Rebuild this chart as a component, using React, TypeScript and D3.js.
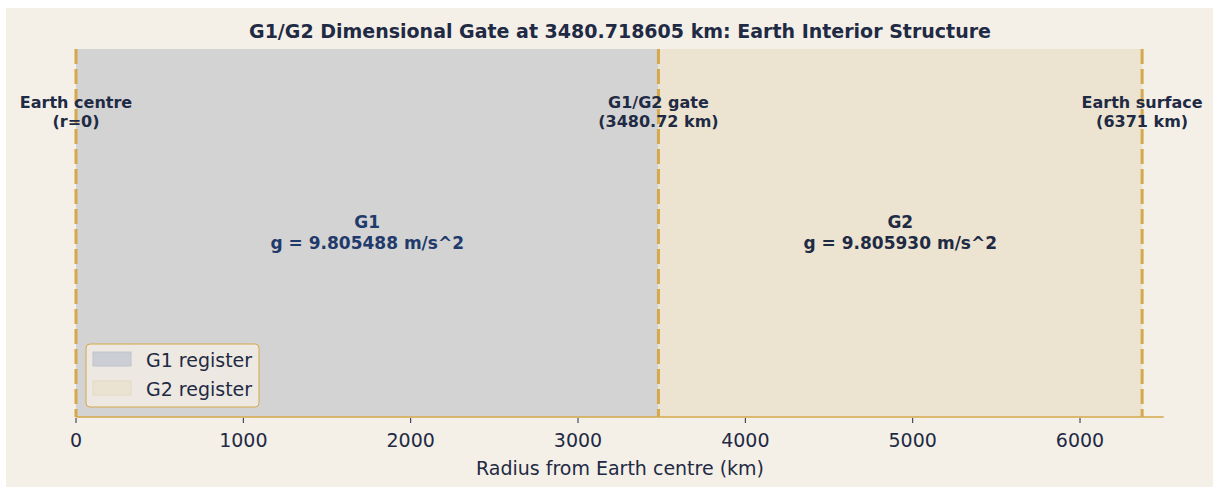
import React from "react";
import * as d3 from "d3";

const regionNames = ["G1", "G2"];
const regionStarts = [0, 3480.718605];
const regionEnds = [3480.718605, 6371];
const regionG = ["9.805488", "9.805930"];
const boundaryValues = [0, 3480.718605, 6371];
const boundaryLabels = [["Earth centre", "(r=0)"], ["G1/G2 gate", "(3480.72 km)"], ["Earth surface", "(6371 km)"]];
const legendLabels = ["G1 register", "G2 register"];
const xTicks = [0, 1000, 2000, 3000, 4000, 5000, 6000];
const xDomain = [0, 6500];

const W = 1213, H = 487;
const FONT = "DejaVu Sans, sans-serif";
const NAVY = "#1f2a44";
const GOLD = "#d4a84b";

export default function App() {
  const left = 76, right = 1163.7, top = 49, bottom = 417;
  const x = d3.scaleLinear().domain(xDomain).range([left, right]);
  const regionFill = ["#d3d3d3", "#ece4d0"];
  const regionText = ["#1f3a6b", NAVY];
  const swatchFill = ["#cbced4", "#ebe3d1"];
  const swatchStroke = ["#bfc3ca", "#e4dac4"];
  return (
    <svg width={W} height={H} style={{ position: "absolute", left: 0, top: 0, fontFamily: FONT }}>
      <rect x={0} y={0} width={W} height={H} fill="#ffffff" />
      <rect x={6} y={8} width={W - 6} height={H - 8} fill="#f4f0e8" />
      <text x={620} y={37.5} textAnchor="middle" fontSize={19} fontWeight="bold" fill={NAVY}>
        G1/G2 Dimensional Gate at 3480.718605 km: Earth Interior Structure
      </text>
      {regionNames.map((n, i) => (
        <rect key={n} x={x(regionStarts[i])} y={top} width={x(regionEnds[i]) - x(regionStarts[i])} height={bottom - top} fill={regionFill[i]} />
      ))}
      {boundaryValues.map((v, i) => (
        <line key={i} x1={x(v)} x2={x(v)} y1={top} y2={bottom} stroke={GOLD} strokeWidth={3} strokeDasharray="15,5" />
      ))}
      {boundaryLabels.map((lab, i) => (
        <text key={i} x={x(boundaryValues[i])} textAnchor="middle" fontSize={16} fontWeight="bold" fill={NAVY}>
          <tspan x={x(boundaryValues[i])} y={108}>{lab[0]}</tspan>
          <tspan x={x(boundaryValues[i])} y={127}>{lab[1]}</tspan>
        </text>
      ))}
      {regionNames.map((n, i) => {
        const cx = (x(regionStarts[i]) + x(regionEnds[i])) / 2;
        return (
          <text key={n} textAnchor="middle" fontSize={17} fontWeight="bold" fill={regionText[i]}>
            <tspan x={cx} y={228}>{n}</tspan>
            <tspan x={cx} y={249}>{`g = ${regionG[i]} m/s^2`}</tspan>
          </text>
        );
      })}
      <line x1={left} x2={right} y1={bottom} y2={bottom} stroke={GOLD} strokeWidth={1.5} />
      {xTicks.map((t) => (
        <g key={t}>
          <line x1={x(t)} x2={x(t)} y1={bottom + 1} y2={bottom + 6} stroke={NAVY} strokeWidth={1} />
          <text x={x(t)} y={447} textAnchor="middle" fontSize={19} fill={NAVY}>{t}</text>
        </g>
      ))}
      <text x={620} y={474.5} textAnchor="middle" fontSize={19} fill={NAVY}>Radius from Earth centre (km)</text>
      <rect x={86} y={344} width={173} height={63} rx={4} fill="#eeeae3" stroke={GOLD} strokeWidth={1} fillOpacity={0.95} />
      {legendLabels.map((l, i) => (
        <g key={l}>
          <rect x={93} y={352 + i * 29} width={38} height={14} fill={swatchFill[i]} stroke={swatchStroke[i]} strokeWidth={1} />
          <text x={146} y={366.5 + i * 29} fontSize={19} fill={NAVY}>{l}</text>
        </g>
      ))}
    </svg>
  );
}
